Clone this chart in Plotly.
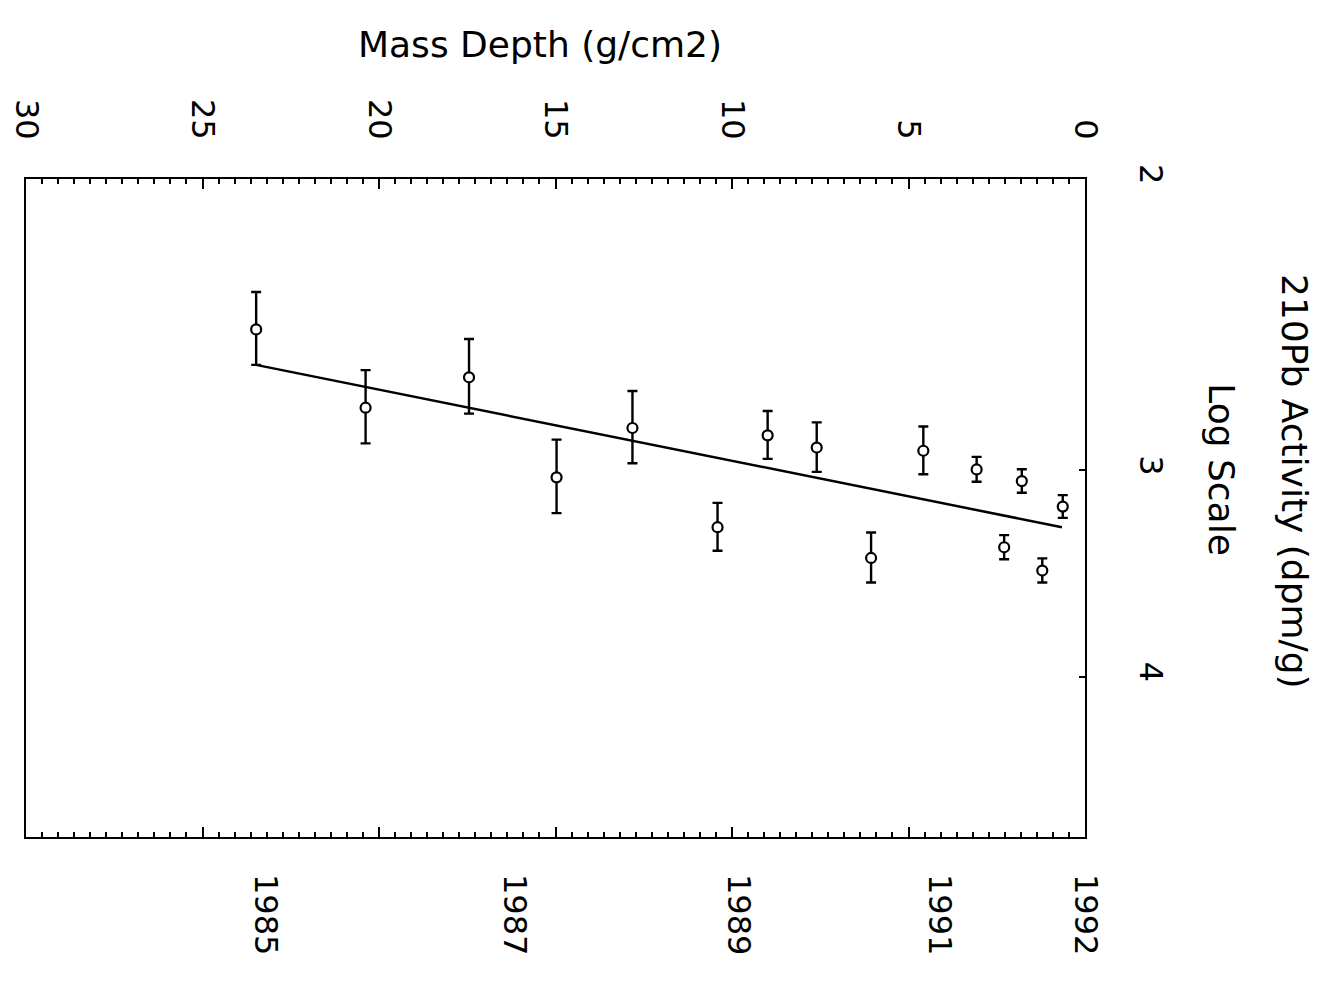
import numpy as np
import plotly.graph_objects as go

# ─── Data ─────────────────────────────────────────────────────────────────────
mass_depth = [23.48, 20.38, 17.45, 14.97, 12.82, 10.41, 8.99, 7.60,
              6.06, 4.58, 3.07, 2.29, 1.79, 1.21, 0.63]
activity = [2.466, 2.75, 2.636, 3.03, 2.829, 3.248, 2.858, 2.907,
            3.390, 2.920, 2.997, 3.340, 3.046, 3.45, 3.156]
activity_err = [0.125, 0.14, 0.137, 0.155, 0.142, 0.108, 0.095, 0.10,
                0.118, 0.097, 0.052, 0.056, 0.05, 0.058, 0.05]

fit_depth = [23.52, 0.655]
fit_activity = [2.59, 3.248]

depth_ticks = [0, 5, 10, 15, 20, 25, 30]
activity_ticks = [2, 3, 4]
year_labels = ["1985", "1987", "1989", "1991", "1992"]
year_depth = [23.23, 16.16, 9.83, 4.12, 0.0]

FONT = "DejaVu Sans"
INK = "black"

# ─── Figure ───────────────────────────────────────────────────────────────────
fig = go.Figure()

fig.add_trace(go.Scatter(
    x=fit_depth, y=fit_activity, mode="lines",
    line=dict(color=INK, width=2.5), hoverinfo="skip",
))

fig.add_trace(go.Scatter(
    x=mass_depth, y=activity, mode="markers",
    marker=dict(symbol="circle", size=10, color="white",
                line=dict(color=INK, width=2.2)),
    error_y=dict(type="data", array=activity_err, color=INK,
                 thickness=2.4, width=5),
))

# placeholder traces so the overlaying axes get drawn
fig.add_trace(go.Scatter(x=[None], y=[None], xaxis="x2", hoverinfo="skip"))
fig.add_trace(go.Scatter(x=[None], y=[None], xaxis="x3", hoverinfo="skip"))

depth_range = [30, 0]
minor_ticks = dict(ticks="inside", ticklen=5, tickwidth=2, tickcolor=INK,
                   dtick=5 / 11, showgrid=False)

fig.update_layout(
    width=1343, height=981,
    margin=dict(l=18, r=266, t=171, b=152),
    paper_bgcolor="white", plot_bgcolor="white",
    showlegend=False,
    font=dict(family=FONT, size=32, color=INK),
    # bottom frame edge with regular ticks
    xaxis=dict(
        range=depth_range, tickmode="linear", tick0=0, dtick=5,
        ticks="inside", ticklen=10, tickwidth=2, tickcolor=INK,
        showticklabels=False, minor=minor_ticks, automargin=False,
        showline=True, linewidth=2.2, linecolor=INK,
        showgrid=False, zeroline=False,
    ),
    # bottom year labels
    xaxis2=dict(
        range=depth_range, overlaying="x", side="bottom", anchor="y",
        tickmode="array", tickvals=year_depth, ticktext=year_labels,
        ticks="", tickangle=90, ticklabelstandoff=36, automargin=False,
        ticklabeloverflow="allow",
        showline=False, showgrid=False, zeroline=False,
    ),
    # top mass depth axis
    xaxis3=dict(
        range=depth_range, overlaying="x", side="top", anchor="y",
        tickmode="array", tickvals=depth_ticks,
        ticks="inside", ticklen=10, tickwidth=2, tickcolor=INK,
        tickangle=90, ticklabelstandoff=26, minor=minor_ticks,
        automargin=False, ticklabeloverflow="allow",
        showline=True, linewidth=2.2, linecolor=INK,
        showgrid=False, zeroline=False,
    ),
    yaxis=dict(
        type="log", range=[np.log10(5), np.log10(2)], side="right",
        tickmode="array", tickvals=activity_ticks,
        ticks="inside", ticklen=6, tickwidth=2, tickcolor=INK,
        tickangle=90, ticklabelstandoff=40, automargin=False,
        ticklabeloverflow="allow",
        showline=True, linewidth=2.2, linecolor=INK, mirror=True,
        showgrid=False, zeroline=False,
    ),
    annotations=[
        dict(text="Mass Depth (g/cm2)", xref="paper", yref="paper",
             x=0.485, y=1.204, xanchor="center", yanchor="middle",
             showarrow=False, font=dict(family=FONT, size=36, color=INK)),
        dict(text="210Pb Activity (dpm/g)", xref="paper", yref="paper",
             x=1.198, y=0.54, xanchor="center", yanchor="middle",
             textangle=90, showarrow=False,
             font=dict(family=FONT, size=36, color=INK)),
        dict(text="Log Scale", xref="paper", yref="paper",
             x=1.129, y=0.558, xanchor="center", yanchor="middle",
             textangle=90, showarrow=False,
             font=dict(family=FONT, size=36, color=INK)),
    ],
)

fig.write_html("out.html")
